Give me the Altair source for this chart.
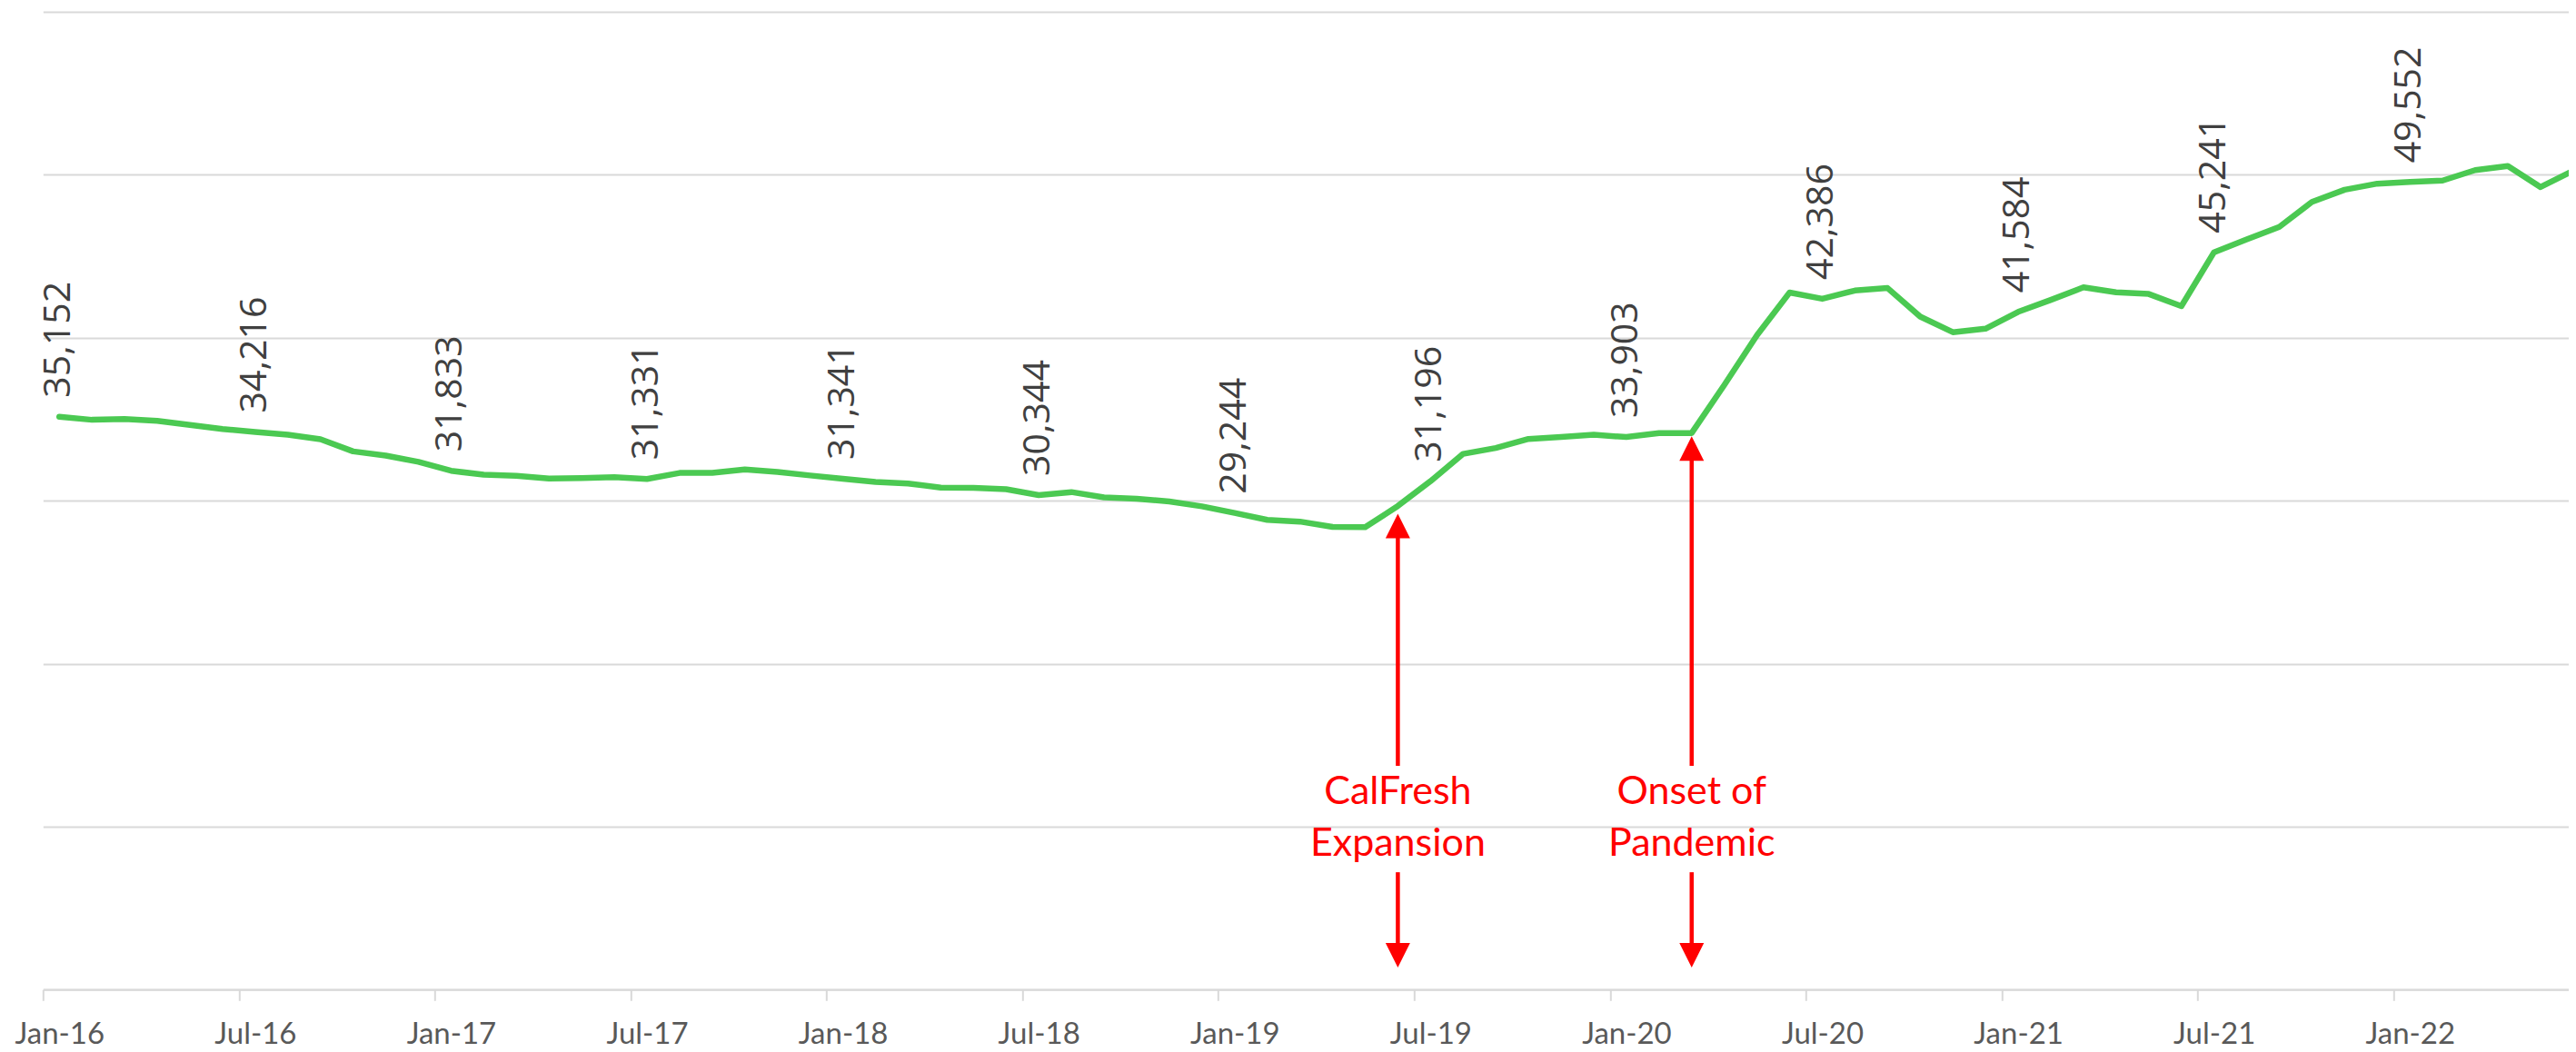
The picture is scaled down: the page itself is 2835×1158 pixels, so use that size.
import json
import altair as alt
import pandas as pd

# ---------------- data ----------------
month_names = ["Jan", "Feb", "Mar", "Apr", "May", "Jun", "Jul", "Aug", "Sep", "Oct", "Nov", "Dec"]
year_suffixes = ["16", "17", "18", "19", "20", "21", "22"]
months = [f"{m}-{y}" for y in year_suffixes for m in month_names][:78]   # Jan-16 .. Jun-22

caseload = [
    35152, 34960, 35010, 34900, 34650, 34400,   # Jan-16 .. Jun-16
    34216, 34043, 33770, 33023, 32766, 32382,   # Jul-16 .. Dec-16
    31833, 31591, 31529, 31357, 31379, 31440,   # Jan-17 .. Jun-17
    31331, 31700, 31700, 31913, 31763, 31546,   # Jul-17 .. Dec-17
    31341, 31150, 31056, 30800, 30780, 30700,   # Jan-18 .. Jun-18
    30344, 30526, 30200, 30120, 29950, 29650,   # Jul-18 .. Dec-18
    29244, 28821, 28715, 28392, 28370, 29674,   # Jan-19 .. Jun-19
    31196, 32872, 33234, 33786, 33914, 34042,   # Jul-19 .. Dec-19
    33903, 34149, 34149, 37100, 40150, 42770,   # Jan-20 .. Jun-20
    42386, 42893, 43043, 41293, 40335, 40552,   # Jul-20 .. Dec-20
    41584, 42317, 43087, 42786, 42681, 41934,   # Jan-21 .. Jun-21
    45241, 46028, 46797, 48329, 49076, 49450,   # Jul-21 .. Dec-21
    49552, 49640, 50280, 50530, 49240, 50240,   # Jan-22 .. Jun-22
]

tick_months = [0, 6, 12, 18, 24, 30, 36, 42, 48, 54, 60, 66, 72]
tick_labels = ["Jan-16", "Jul-16", "Jan-17", "Jul-17", "Jan-18", "Jul-18", "Jan-19",
               "Jul-19", "Jan-20", "Jul-20", "Jan-21", "Jul-21", "Jan-22"]
y_grid = [0, 10000, 20000, 30000, 40000, 50000, 60000]

# annotations
event_months = ["Jun-19", "Mar-20"]
event_line1 = ["CalFresh", "Onset of"]
event_line2 = ["Expansion", "Pandemic"]
up_tip = [29200, 33950]        # arrow tip just under the line
up_tail = [13725, 13725]       # lower end of the upward arrow
down_tail = [7200, 7200]       # upper end of the downward arrow
down_tip = [1350, 1350]        # tip of the downward arrow
text_line1 = [11390, 11390]
text_line2 = [8210, 8210]

# ---------------- styling ----------------
GREEN = "#4bc952"
GRID = "#d9d9d9"
RED = "#ff0000"
MONTH_PX = 35.93
W = 2779.7
H = 1076.4
x_max = W / MONTH_PX

df = pd.DataFrame({
    "month": months,
    "idx": list(range(len(months))),
    "value": caseload,
})
df["x"] = df["idx"] + 0.5
lab_df = df[df["idx"] % 6 == 0].copy()

ev_idx = [months.index(m) for m in event_months]
ev = pd.DataFrame({
    "x": [i + 0.5 for i in ev_idx],
    "up_tip": up_tip,
    "up_shaft": [v - 1000 for v in up_tip],
    "up_tail": up_tail,
    "down_tail": down_tail,
    "down_shaft": [v + 1000 for v in down_tip],
    "down_tip": down_tip,
})
txt = pd.DataFrame({
    "x": [i + 0.5 for i in ev_idx] * 2,
    "y": text_line1 + text_line2,
    "text": event_line1 + event_line2,
})

x_scale = alt.Scale(domain=[0, x_max], nice=False, zero=False)
y_scale = alt.Scale(domain=[0, 60000], nice=False, zero=True)

x_axis = alt.Axis(
    values=tick_months,
    labelExpr=f"{json.dumps(tick_labels)}[round(datum.value / 6)]",
    grid=False, title=None,
    tickSize=12, tickColor=GRID, tickWidth=2,
    domainColor=GRID, domainWidth=2,
    labelFont="Lato", labelFontSize=33, labelColor="#595959",
    labelPadding=21, labelOffset=18, labelFlush=False, labelOverlap=False, labelBound=False,
)
y_axis = alt.Axis(values=y_grid, labels=False, ticks=False, domain=False, title=None,
                  gridColor=GRID, gridWidth=2)

line = alt.Chart(df).mark_line(
    color=GREEN, strokeWidth=6.5, strokeCap="round", strokeJoin="round", clip=True
).encode(
    x=alt.X("x:Q", scale=x_scale, axis=x_axis),
    y=alt.Y("value:Q", scale=y_scale, axis=y_axis),
)

labels = alt.Chart(lab_df).mark_text(
    angle=270, align="left", baseline="middle", dx=21,
    font="Open Sans", fontSize=41, color="#404040"
).encode(
    x=alt.X("x:Q", scale=x_scale),
    y=alt.Y("value:Q", scale=y_scale),
    text=alt.Text("value:Q", format=","),
)

rule_up = alt.Chart(ev).mark_rule(color=RED, strokeWidth=4.5).encode(
    x=alt.X("x:Q", scale=x_scale), y=alt.Y("up_shaft:Q", scale=y_scale), y2="up_tail:Q")
head_up = alt.Chart(ev).mark_point(
    shape="M0,0L-1,2L1,2Z", size=729, filled=True, color=RED, opacity=1, strokeWidth=0
).encode(x=alt.X("x:Q", scale=x_scale), y=alt.Y("up_tip:Q", scale=y_scale))

rule_down = alt.Chart(ev).mark_rule(color=RED, strokeWidth=4.5).encode(
    x=alt.X("x:Q", scale=x_scale), y=alt.Y("down_tail:Q", scale=y_scale), y2="down_shaft:Q")
head_down = alt.Chart(ev).mark_point(
    shape="M0,0L-1,-2L1,-2Z", size=729, filled=True, color=RED, opacity=1, strokeWidth=0
).encode(x=alt.X("x:Q", scale=x_scale), y=alt.Y("down_tip:Q", scale=y_scale))

ann_text = alt.Chart(txt).mark_text(
    font="Lato", fontSize=43, color=RED, align="center", baseline="alphabetic"
).encode(
    x=alt.X("x:Q", scale=x_scale),
    y=alt.Y("y:Q", scale=y_scale),
    text="text:N",
)

chart = alt.layer(line, labels, rule_up, head_up, rule_down, head_down, ann_text).properties(
    width=W, height=H,
    autosize=alt.AutoSizeParams(type="none"),
    padding={"left": 39.3, "top": 4.9, "right": 0, "bottom": 72},
    background="white",
).configure_view(stroke=None)

chart.save("out.html", embed_options={"renderer": "svg", "actions": False})
